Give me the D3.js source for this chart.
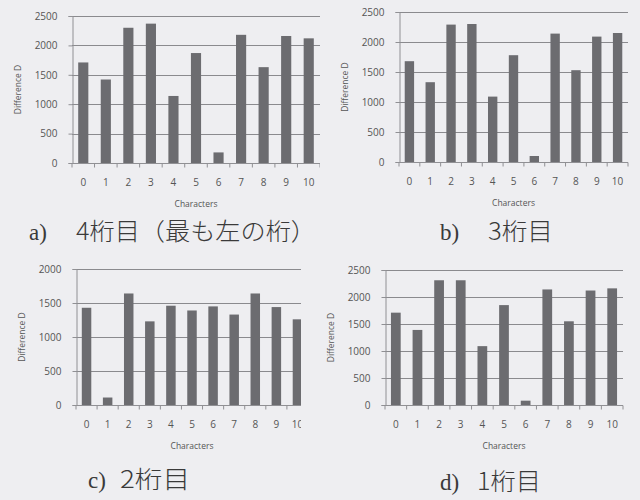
<!DOCTYPE html>
<html><head><meta charset="utf-8">
<script src="https://cdn.jsdelivr.net/npm/d3@7"></script>
<style>
html,body{margin:0;padding:0;background:#eeeef1;}
svg{display:block;}
</style></head>
<body>
<svg id="chart" width="640" height="500"></svg>
<script>
// ---- data ----
const categories = ["0","1","2","3","4","5","6","7","8","9","10"];
const digit4 = [1710,1420,2300,2370,1140,1870,180,2180,1630,2160,2120];
const digit3 = [1680,1330,2290,2300,1090,1780,100,2140,1530,2090,2150];
const digit2 = [1430,110,1640,1230,1460,1390,1450,1330,1640,1440,1260];
const digit1 = [1710,1390,2310,2310,1090,1850,80,2140,1550,2120,2160];
const yTicks2500 = [0,500,1000,1500,2000,2500];
const yTicks2000 = [0,500,1000,1500,2000];
const captionLabels = ["a)","b)","c)","d)"];
const captionTexts = ["4桁目（最も左の桁）","3桁目","2桁目","1桁目"];
const xTitle = "Characters";
const yTitle = "Difference D";

// ---- layout ----
const panels = [
  {values: digit4, ticks: yTicks2500, x0: 72,  x1: 320, yTop: 16,  yBot: 163, clip: 320, cap: {lx: 29,  tx: 76,  len: 240, y: 240}},
  {values: digit3, ticks: yTicks2500, x0: 399, x1: 628, yTop: 12,  yBot: 162, clip: 640, cap: {lx: 440, tx: 488, len: 65,  y: 240}},
  {values: digit2, ticks: yTicks2000, x0: 76,  x1: 308, yTop: 269, yBot: 405, clip: 301, cap: {lx: 88,  tx: 120, len: 70,  y: 488}},
  {values: digit1, ticks: yTicks2500, x0: 385, x1: 623, yTop: 270, yBot: 405, clip: 640, cap: {lx: 440, tx: 477, len: 64,  y: 490}}
];

const svg = d3.select("#chart");
svg.append("rect").attr("width",640).attr("height",500).attr("fill","#eeeef1");

panels.forEach((p, i) => {
  const g = svg.append("g");
  const clipId = "clip" + i;
  svg.append("clipPath").attr("id", clipId)
    .append("rect").attr("x", 0).attr("y", 0).attr("width", p.clip).attr("height", 500);
  const inner = g.append("g").attr("clip-path", `url(#${clipId})`);

  const x = d3.scaleBand().domain(categories).range([p.x0, p.x1]).paddingInner(0.55).paddingOuter(0.275);
  const yMax = d3.max(p.ticks);
  const y = d3.scaleLinear().domain([0, yMax]).range([p.yBot, p.yTop]);

  // gridlines
  inner.selectAll("line.grid").data(p.ticks.filter(t => t > 0)).join("line")
    .attr("x1", p.x0).attr("x2", p.x1)
    .attr("y1", d => Math.round(y(d)) + 0.5).attr("y2", d => Math.round(y(d)) + 0.5)
    .attr("stroke", "#8a8a8e").attr("stroke-width", 1);

  // bars
  inner.selectAll("rect.bar").data(p.values).join("rect")
    .attr("x", (d, j) => x(categories[j]))
    .attr("width", x.bandwidth())
    .attr("y", d => y(d))
    .attr("height", d => p.yBot - y(d))
    .attr("fill", "#6c6c70");

  // y axis
  const yAxis = d3.axisLeft(y).tickValues(p.ticks).tickSize(4).tickPadding(11).tickFormat(d3.format("d"));
  const ya = g.append("g").attr("transform", `translate(${p.x0 + 0.5},0)`).call(yAxis);
  ya.select(".domain").attr("stroke", "#909094");
  ya.selectAll(".tick line").attr("stroke", "#909094");
  ya.selectAll(".tick text").attr("fill", "#555").style("font", "10px 'Open Sans', sans-serif");

  // x axis (category ticks at band boundaries, Excel style)
  const xa = inner.append("g").attr("transform", `translate(0,${p.yBot + 0.5})`);
  xa.append("line").attr("x1", p.x0).attr("x2", p.x1).attr("stroke", "#909094");
  const bounds = d3.range(categories.length + 1).map(k => p.x0 + k * (p.x1 - p.x0) / categories.length);
  xa.selectAll("line.tk").data(bounds).join("line")
    .attr("x1", d => d).attr("x2", d => d).attr("y1", 0).attr("y2", 4).attr("stroke", "#909094");
  xa.selectAll("text").data(categories).join("text")
    .attr("x", d => x(d) + x.bandwidth() / 2).attr("y", 22)
    .attr("text-anchor", "middle").attr("fill", "#555")
    .style("font", "10px 'Open Sans', sans-serif").text(d => d);

  // axis titles
  g.append("text").attr("x", (p.x0 + p.x1) / 2).attr("y", p.yBot + 44)
    .attr("text-anchor", "middle").attr("fill", "#555")
    .style("font", "8.5px 'Open Sans', sans-serif").text(xTitle);
  g.append("text")
    .attr("transform", `translate(${p.x0 - 51},${(p.yTop + p.yBot) / 2}) rotate(-90)`)
    .attr("text-anchor", "middle").attr("fill", "#555")
    .style("font", "8.5px 'Open Sans', sans-serif").text(yTitle);

  // caption
  g.append("text").attr("x", p.cap.lx).attr("y", p.cap.y).attr("fill", "#3a3a3a")
    .style("font", "23px 'Liberation Serif', serif").text(captionLabels[i]);
  g.append("text").attr("x", p.cap.tx).attr("y", p.cap.y).attr("fill", "#3a3a3a")
    .attr("textLength", p.cap.len).attr("lengthAdjust", "spacingAndGlyphs")
    .style("font", "300 24px 'Noto Sans CJK JP', sans-serif").text(captionTexts[i]);
});
</script>
</body></html>
